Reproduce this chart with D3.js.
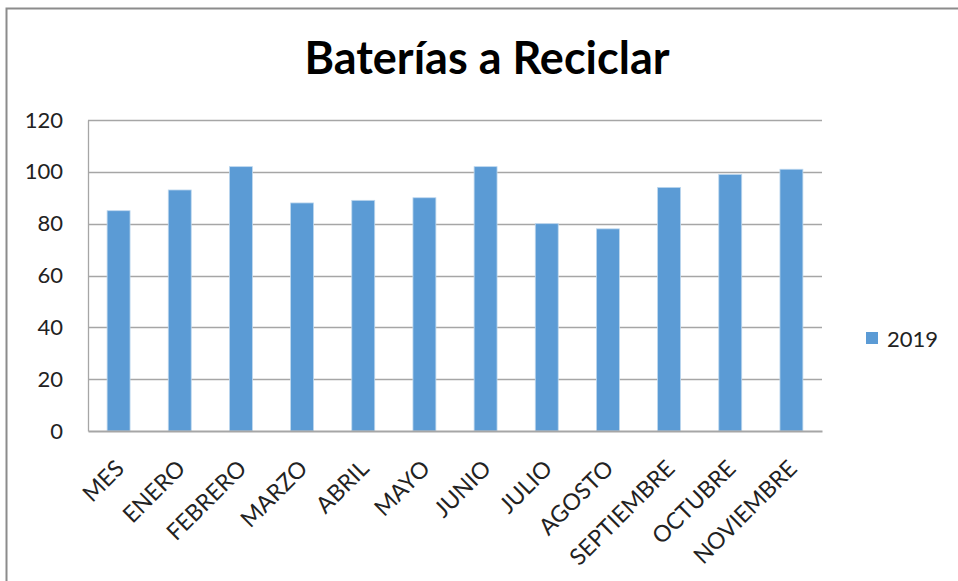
<!DOCTYPE html>
<html>
<head>
<meta charset="utf-8">
<script src="https://cdn.jsdelivr.net/npm/d3@7"></script>
<style>
  body { margin: 0; background: #fff; }
  text { font-family: Lato, "Open Sans", sans-serif; fill: #222; }
</style>
</head>
<body>
<div id="chart"></div>
<script>
// datos del grafico
var meses = ["MES", "ENERO", "FEBRERO", "MARZO", "ABRIL", "MAYO", "JUNIO", "JULIO", "AGOSTO", "SEPTIEMBRE", "OCTUBRE", "NOVIEMBRE"];
var valores2019 = [85, 93, 102, 88, 89, 90, 102, 80, 78, 94, 99, 101];
var ticksY = [0, 20, 40, 60, 80, 100, 120];
var serie = "2019";
var titulo = "Baterías a Reciclar";

var W = 958, H = 581;
var margin = { top: 120, right: 136, bottom: 150, left: 88 },
    width = W - margin.left - margin.right,
    height = H - margin.top - margin.bottom;

var svgRoot = d3.select("#chart")
    .append("svg")
    .attr("width", W)
    .attr("height", H);

// marco del grafico
svgRoot.append("path")
    .attr("d", "M6.5," + H + " V8.5 H" + W)
    .attr("fill", "none")
    .attr("stroke", "#8c8c8c")
    .attr("stroke-width", 2);

svgRoot.append("text")
    .attr("x", 487)
    .attr("y", 74)
    .attr("text-anchor", "middle")
    .style("font-size", "45px")
    .style("font-weight", "bold")
    .style("fill", "#000")
    .text(titulo);

var svg = svgRoot.append("g")
    .attr("transform", "translate(" + margin.left + "," + margin.top + ")");

var x = d3.scaleBand()
    .domain(meses)
    .range([0, width])
    .padding(0);

var y = d3.scaleLinear()
    .domain([0, 120])
    .range([height, 0]);

// lineas de cuadricula
svg.selectAll("line.grid")
    .data(ticksY.slice(1))
    .enter()
    .append("line")
    .attr("class", "grid")
    .attr("x1", 0)
    .attr("x2", width)
    .attr("y1", function(d) { return Math.round(y(d)) + 0.5; })
    .attr("y2", function(d) { return Math.round(y(d)) + 0.5; })
    .attr("stroke", "#a6a6a6")
    .attr("stroke-width", 1.3);

// eje Y
var yAxis = svg.append("g")
    .call(d3.axisLeft(y).tickValues(ticksY).tickSize(0).tickPadding(25));
yAxis.select(".domain").attr("stroke", "#a6a6a6").attr("stroke-width", 1.3);
yAxis.selectAll("text").style("font-size", "22px").style("fill", "#222");

// barras
var barW = x.bandwidth() * 0.375;
svg.selectAll("rect.bar")
    .data(valores2019)
    .enter()
    .append("rect")
    .attr("class", "bar")
    .attr("x", function(d, i) { return x(meses[i]) + x.bandwidth() / 2 - barW / 2; })
    .attr("y", function(d) { return y(d); })
    .attr("width", barW)
    .attr("height", function(d) { return height - y(d); })
    .attr("fill", "#5b9bd5")
    .attr("stroke", "#bdd7ee")
    .attr("stroke-width", 0.8);

// eje X
var xAxis = svg.append("g")
    .attr("transform", "translate(0," + height + ")")
    .call(d3.axisBottom(x).tickSize(0).tickPadding(0));
xAxis.select(".domain").attr("stroke", "#a6a6a6").attr("stroke-width", 2);
xAxis.selectAll("text")
    .style("font-size", "23px")
    .style("fill", "#222")
    .attr("text-anchor", "end")
    .attr("dy", "0")
    .attr("transform", "translate(7,39) rotate(-45)");

// leyenda
var leyenda = svgRoot.append("g")
    .attr("transform", "translate(866,332)");
leyenda.append("rect")
    .attr("width", 12)
    .attr("height", 12)
    .attr("fill", "#5b9bd5");
leyenda.append("text")
    .attr("x", 21)
    .attr("y", 15)
    .style("font-size", "22px")
    .text(serie);
</script>
</body>
</html>
